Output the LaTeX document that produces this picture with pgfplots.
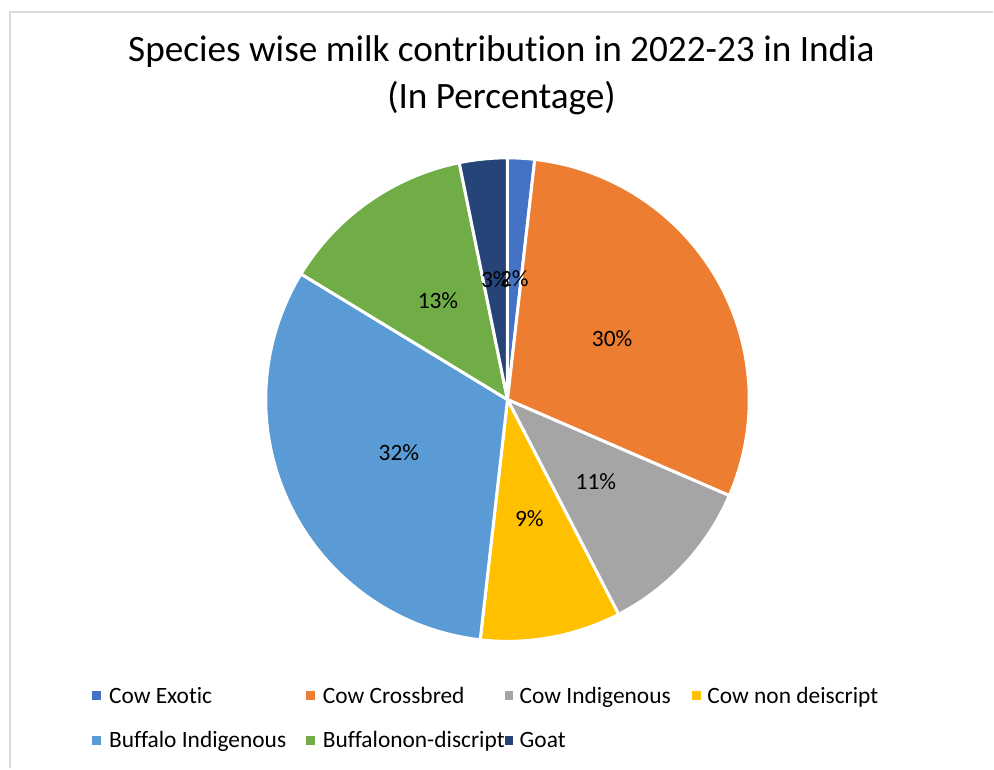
\documentclass[border=0pt]{standalone}
\usepackage{pgfplots}
\pgfplotsset{compat=1.18}
\usepackage{pgfplotstable}
\usepackage{fontspec}
\setmainfont{Carlito}[Ligatures={NoCommon}]
\definecolor{c0}{HTML}{4472C4}
\definecolor{c1}{HTML}{ED7D31}
\definecolor{c2}{HTML}{A5A5A5}
\definecolor{c3}{HTML}{FFC000}
\definecolor{c4}{HTML}{5B9BD5}
\definecolor{c5}{HTML}{70AD47}
\definecolor{c6}{HTML}{264478}
\definecolor{framegray}{HTML}{D9D9D9}
\newcommand\lbfont{\fontsize{23.5}{28}\selectfont}
\newcommand\ttfont{\fontsize{37.4}{45}\selectfont}

\pgfplotstableread{
pct lab
1.8 2
29.7 30
10.9 11
9.4 9
31.9 32
13.1 13
3.2 3
}\milk

\begin{document}
\begin{tikzpicture}
\begin{axis}[width=994bp,height=769bp,scale only axis,
  xmin=0,xmax=994,ymin=0,ymax=769,y dir=reverse,
  hide axis,clip=false]
\fill[white] (axis cs:0,0) rectangle (axis cs:994,769);
\draw[framegray,line width=2bp] (axis cs:10,769) -- (axis cs:10,12) -- (axis cs:994,12);
% sectors
\gdef\startang{90}
\pgfplotsforeachungrouped \i in {0,...,6}{%
  \pgfplotstablegetelem{\i}{pct}\of\milk
  \pgfmathsetmacro\endang{\startang-3.6*\pgfplotsretval}%
  \edef\temp{\noexpand\addplot[fill=c\i,draw=white,line width=3bp,line join=round,domain=\endang:\startang,samples=90] ({508+242*cos(x)},{400-242*sin(x)}) -- (axis cs:508,400) -- cycle;}%
  \temp
  \global\let\startang\endang
}
% labels
\gdef\startang{90}
\pgfplotsforeachungrouped \i in {0,...,6}{%
  \pgfplotstablegetelem{\i}{pct}\of\milk
  \pgfmathsetmacro\endang{\startang-3.6*\pgfplotsretval}%
  \pgfmathsetmacro\midang{(\startang+\endang)/2}%
  \pgfmathsetmacro\lx{508+121*cos(\midang)}%
  \pgfmathsetmacro\ly{400-121*sin(\midang)}%
  \pgfplotstablegetelem{\i}{lab}\of\milk
  \let\lab\pgfplotsretval
  \edef\temp{\noexpand\node[font=\noexpand\lbfont,inner sep=0pt] at (axis cs:\lx,\ly) {\lab\noexpand\%};}%
  \temp
  \global\let\startang\endang
}
% title
\node[font=\ttfont,anchor=base] at (axis cs:502,62) {Species wise milk contribution in 2022-23 in India};
\node[font=\ttfont,anchor=base] at (axis cs:502,109) {(In Percentage)};
% legend
\fill[c0] (axis cs:92,692) rectangle (axis cs:101,701);
\fill[c1] (axis cs:306,692) rectangle (axis cs:315,701);
\fill[c2] (axis cs:505,692) rectangle (axis cs:514,701);
\fill[c3] (axis cs:693,692) rectangle (axis cs:702,701);
\fill[c4] (axis cs:92,737) rectangle (axis cs:101,746);
\fill[c5] (axis cs:306,737) rectangle (axis cs:315,746);
\fill[c6] (axis cs:505,737) rectangle (axis cs:514,746);
\node[font=\lbfont,anchor=base west,inner sep=0pt] at (axis cs:109,704) {Cow Exotic};
\node[font=\lbfont,anchor=base west,inner sep=0pt] at (axis cs:323,704) {Cow Crossbred};
\node[font=\lbfont,anchor=base west,inner sep=0pt] at (axis cs:520,704) {Cow Indigenous};
\node[font=\lbfont,anchor=base west,inner sep=0pt] at (axis cs:708,704) {Cow non deiscript};
\node[font=\lbfont,anchor=base west,inner sep=0pt] at (axis cs:109,748) {Buffalo Indigenous};
\node[font=\lbfont,anchor=base west,inner sep=0pt] at (axis cs:323,748) {Buffalonon-discript};
\node[font=\lbfont,anchor=base west,inner sep=0pt] at (axis cs:520,748) {Goat};
\end{axis}
\end{tikzpicture}
\end{document}
